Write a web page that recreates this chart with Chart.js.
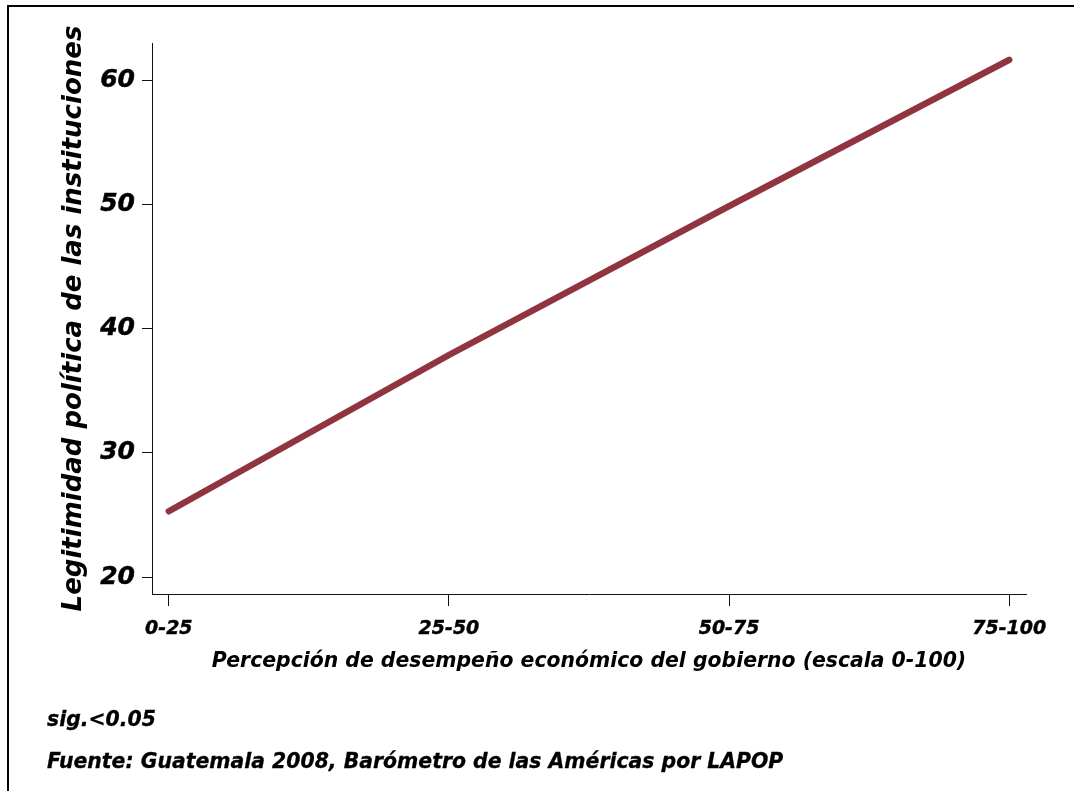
<!DOCTYPE html>
<html>
<head>
<meta charset="utf-8">
<script src="https://cdn.jsdelivr.net/npm/chart.js@4"></script>
<style>
  html, body { margin: 0; padding: 0; background: #fff; overflow: hidden; }
  #wrap { position: relative; width: 1074px; height: 791px; }
  #frame { position: absolute; left: 7px; top: 5px; width: 1100px; height: 800px;
           border-top: 2px solid #000; border-left: 2px solid #000; }
  canvas { position: absolute; left: 0; top: 0; }
  .note { position: absolute; left: 47px; font: italic bold 20.4px "DejaVu Sans", sans-serif;
          color: #000; line-height: 1; white-space: nowrap; -webkit-text-stroke: 0.3px #000; }
</style>
</head>
<body>
<div id="wrap">
  <div id="frame"></div>
  <canvas id="chart" width="1074" height="791"></canvas>
  <div class="note" style="top:709px">sig.&lt;0.05</div>
  <div class="note" style="top:751px">Fuente: Guatemala 2008, Barómetro de las Américas por LAPOP</div>
</div>
<script>
const categories = ['0-25', '25-50', '50-75', '75-100'];
const legitimidad = [25.3, 37.9, 49.9, 61.7];
const yTicks = [20, 30, 40, 50, 60];

const font = (size) => ({ family: '"DejaVu Sans", sans-serif', size: size, weight: 'bold', style: 'italic' });

const ctx = document.getElementById('chart').getContext('2d');
new Chart(ctx, {
  type: 'line',
  data: {
    datasets: [{
      data: legitimidad.map((v, i) => ({ x: i, y: v })),
      borderColor: '#903540',
      borderWidth: 6.5,
      borderCapStyle: 'round',
      borderJoinStyle: 'round',
      pointRadius: 0,
      tension: 0,
      fill: false,
    }],
  },
  options: {
    responsive: false,
    animation: false,
    layout: { padding: { top: 43, right: 48, bottom: 0, left: 0 } },
    plugins: { legend: { display: false }, tooltip: { enabled: false } },
    scales: {
      x: {
        type: 'linear',
        min: -0.06,
        max: 3.06,
        afterBuildTicks: (scale) => { scale.ticks = categories.map((c, i) => ({ value: i })); },
        afterFit: (scale) => { scale.height = 197; },
        grid: { drawOnChartArea: false, tickLength: 12, tickColor: '#111', tickWidth: 1 },
        border: { display: true, color: '#111', width: 1 },
        ticks: {
          color: '#000',
          font: font(19),
          padding: 12,
          maxRotation: 0,
          textStrokeColor: '#000',
          textStrokeWidth: 0.4,
          callback: (v) => categories[v],
        },
        title: {
          display: true,
          text: 'Percepción de desempeño económico del gobierno (escala 0-100)',
          color: '#000',
          font: font(20.4),
          padding: { top: 0, bottom: 117 },
        },
      },
      y: {
        min: 18.63,
        max: 63.06,
        afterBuildTicks: (scale) => { scale.ticks = yTicks.map((v) => ({ value: v })); },
        afterFit: (scale) => { scale.width = 152; },
        grid: { drawOnChartArea: false, tickLength: 10, tickColor: '#111', tickWidth: 1 },
        border: { display: true, color: '#111', width: 1 },
        ticks: { color: '#000', font: font(25), padding: 7, textStrokeColor: '#000', textStrokeWidth: 0.5 },
        title: {
          display: true,
          text: 'Legitimidad política de las instituciones',
          color: '#000',
          font: font(26),
          padding: { top: 59, bottom: 0 },
        },
      },
    },
  },
});
</script>
</body>
</html>
